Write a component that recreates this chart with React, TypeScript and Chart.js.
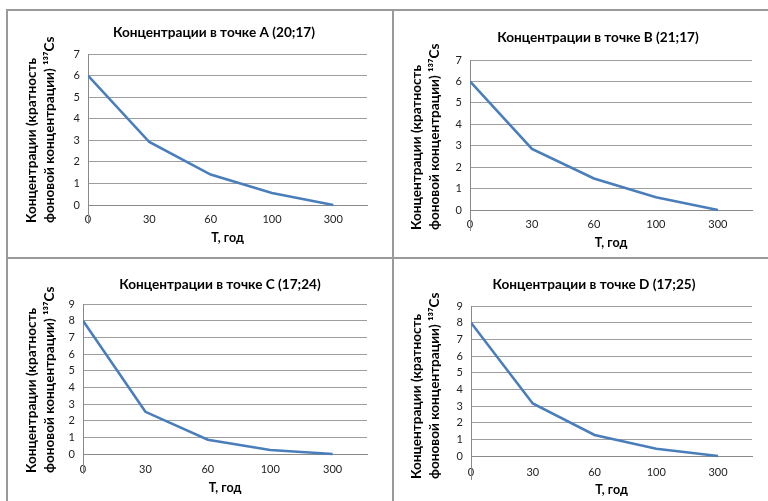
import React, { useEffect, useRef } from "react";
import { Chart, registerables } from "chart.js";

Chart.register(...registerables);

// ---- data ----
const X_LABELS = ["0", "30", "60", "100", "300"];
const TITLES = [
  "Концентрации в точке A (20;17)",
  "Концентрации в точке B (21;17)",
  "Концентрации в точке C (17;24)",
  "Концентрации в точке D (17;25)",
];
const VALUES_A = [6, 2.92, 1.41, 0.56, 0];
const VALUES_B = [6, 2.85, 1.47, 0.59, 0];
const VALUES_C = [8, 2.53, 0.86, 0.24, 0];
const VALUES_D = [8, 3.15, 1.26, 0.43, 0];
const Y_MAX = [7, 7, 9, 9];
const Y_TITLE = ["Концентрации (кратность", "фоновой концентрации) ¹³⁷Cs"];
const X_TITLE = "T, год";

const FONT = "Lato, 'Open Sans', sans-serif";
const LINE_COLOR = "#4A7EBB";
const GRID_COLOR = "#9e9e9e";
const AXIS_COLOR = "#8a8a8a";
const FRAME_COLOR = "#9a9a9a";

type Panel = {
  left: number; top: number; w: number; h: number;
  plotL: number; plotR: number; plotT: number; plotB: number;
  titleCx: number; titleCy: number; tickY: number; xTitleY: number; yTitle1: number; yTitleStart: number;
};

const PANELS: Panel[] = [
  { left: 7, top: 10, w: 386, h: 248, plotL: 81, plotR: 360, plotT: 44, plotB: 195, titleCx: 207, titleCy: 23, tickY: 210, xTitleY: 228, yTitle1: 25, yTitleStart: 213 },
  { left: 393, top: 10, w: 375, h: 248, plotL: 77, plotR: 359, plotT: 50, plotB: 200, titleCx: 205, titleCy: 28, tickY: 215, xTitleY: 233, yTitle1: 24, yTitleStart: 220 },
  { left: 7, top: 258, w: 386, h: 243, plotL: 76, plotR: 360, plotT: 46, plotB: 196, titleCx: 213, titleCy: 27, tickY: 212, xTitleY: 230, yTitle1: 25, yTitleStart: 215 },
  { left: 393, top: 258, w: 375, h: 243, plotL: 78, plotR: 359, plotT: 48, plotB: 198, titleCx: 201, titleCy: 27, tickY: 215, xTitleY: 232, yTitle1: 24, yTitleStart: 221 },
];
const SERIES = [VALUES_A, VALUES_B, VALUES_C, VALUES_D];

function ChartPanel({ idx }: { idx: number }) {
  const ref = useRef<HTMLCanvasElement | null>(null);
  const p = PANELS[idx];
  useEffect(() => {
    if (!ref.current) return;
    const titleSize = 13.6;
    const titleLH = titleSize * 1.2;
    const xTitleSize = 12.5;
    const yTitleSize = 13.6;
    const yTitleLH = 18;
    const xTitleLH = xTitleSize * 1.2;
    const tickSize = 11;
    const adjust = {
      id: "adjust",
      afterLayout(chart: any) {
        const tb = chart.titleBlock;
        if (tb) {
          tb.left = p.titleCx - 160;
          tb.right = p.titleCx + 160;
        }
        const ys = chart.scales.y;
        if (ys) ys.bottom = p.yTitleStart;
      },
    };
    const chart = new Chart(ref.current, {
      type: "line",
      data: {
        datasets: [
          {
            data: SERIES[idx].map((v, i) => ({ x: i, y: v })),
            borderColor: LINE_COLOR,
            borderWidth: 2.6,
            pointRadius: 0,
            tension: 0,
            fill: false,
          },
        ],
      },
      options: {
        animation: false,
        responsive: false,
        maintainAspectRatio: false,
        layout: { padding: { left: 0, right: p.w - p.plotR, top: 0, bottom: 0 } },
        plugins: {
          legend: { display: false },
          tooltip: { enabled: false },
          title: {
            display: true,
            text: TITLES[idx],
            color: "#000",
            font: { family: FONT, size: titleSize, weight: "bold", lineHeight: 1.2 },
            padding: { top: p.titleCy - titleLH / 2, bottom: p.plotT - p.titleCy - titleLH / 2 },
          },
        },
        scales: {
          x: {
            type: "linear",
            min: 0,
            max: 4.55,
            afterFit: (s: any) => { s.height = p.h - p.plotB; },
            grid: { display: false, drawTicks: false },
            border: { display: true, color: AXIS_COLOR, width: 1 },
            ticks: {
              stepSize: 1,
              includeBounds: false,
              autoSkip: false,
              maxRotation: 0,
              padding: p.tickY - p.plotB - 7,
              color: "#222",
              font: { family: FONT, size: tickSize },
              callback: (v: any) => (Number.isInteger(v) && X_LABELS[v] !== undefined ? X_LABELS[v] : ""),
            },
            title: {
              display: true,
              text: X_TITLE,
              color: "#000",
              font: { family: FONT, size: xTitleSize, weight: "bold", lineHeight: 1.2 },
              padding: { top: 0, bottom: p.h - p.xTitleY - xTitleLH / 2 },
            },
          },
          y: {
            min: 0,
            max: Y_MAX[idx],
            afterFit: (s: any) => { s.width = p.plotL; },
            grid: { color: GRID_COLOR, lineWidth: 1, drawTicks: false },
            border: { display: true, color: AXIS_COLOR, width: 1 },
            ticks: {
              stepSize: 1,
              padding: 8,
              color: "#222",
              font: { family: FONT, size: tickSize },
            },
            title: {
              display: true,
              text: Y_TITLE,
              align: "start",
              color: "#000",
              font: { family: FONT, size: yTitleSize, weight: "bold", lineHeight: yTitleLH / yTitleSize },
              padding: { top: p.yTitle1 - yTitleLH / 2, bottom: 0 },
            },
          },
        },
      } as any,
      plugins: [adjust],
    });
    return () => chart.destroy();
  }, [idx]);
  return (
    <canvas
      ref={ref}
      width={p.w}
      height={p.h}
      style={{ position: "absolute", left: p.left, top: p.top, width: p.w, height: p.h }}
    />
  );
}

export default function App() {
  const line = (s: React.CSSProperties) => (
    <div style={{ position: "absolute", background: FRAME_COLOR, ...s }} />
  );
  return (
    <div
      style={{
        position: "absolute",
        left: 0,
        top: 0,
        width: 768,
        height: 501,
        background: "#fff",
        overflow: "hidden",
      }}
    >
      {PANELS.map((_, i) => (
        <ChartPanel key={i} idx={i} />
      ))}
      {line({ left: 6, top: 9, width: 762, height: 2 })}
      {line({ left: 6, top: 9, width: 2, height: 492 })}
      {line({ left: 392, top: 9, width: 2, height: 492 })}
      {line({ left: 6, top: 257, width: 762, height: 2 })}
    </div>
  );
}
